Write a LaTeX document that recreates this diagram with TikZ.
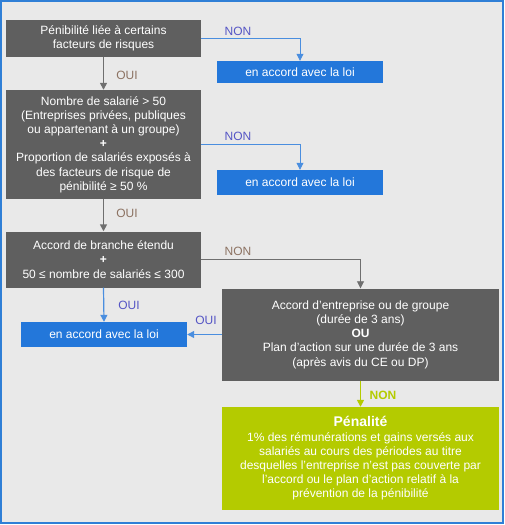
\documentclass[tikz,border=0pt]{standalone}
\usepackage{fontspec}
\setmainfont{Liberation Sans}
\usetikzlibrary{arrows.meta}

\definecolor{panelbg}{HTML}{E9E9E9}
\definecolor{panelframe}{HTML}{2F7FD6}
\definecolor{boxgrey}{HTML}{5F5F5F}
\definecolor{loiblue}{HTML}{2377DA}
\definecolor{penagreen}{HTML}{B4CB00}
\definecolor{linkblue}{HTML}{4A8EDF}
\definecolor{nonblue}{HTML}{5555C5}
\definecolor{ouibrown}{HTML}{8C7262}

\begin{document}
\begin{tikzpicture}[x=1pt, y=-1pt, every node/.style={font=\fontsize{12}{14.2}\selectfont, inner sep=0pt},
	greybox/.style={fill=boxgrey, text=white, align=center, minimum width=195pt},
	loibox/.style={fill=loiblue, text=white, minimum width=166pt},
	penabox/.style={fill=penagreen, text=white, align=center, minimum width=277pt},
	>={Triangle[length=7pt, width=7pt]}]
	\useasboundingbox (0,0) rectangle (505,525);
	\draw[panelframe, fill=panelbg, line width=1.2pt] (1,1) rectangle (503,523);

	% conditions
	\node[greybox, minimum height=37pt] (penib) at (103.5,38.5) {Pénibilité liée à certains\\facteurs de risques};
	\node[greybox, minimum height=109pt] (effectif) at (103.5,144.5) {Nombre de salarié > 50\\(Entreprises privées, publiques\\ou appartenant à un groupe)\\\textbf{+}\\Proportion de salariés exposés à\\des facteurs de risque de\\pénibilité ≥ 50 \%};
	\node[greybox, minimum height=56pt] (branche) at (103.5,259.5) {Accord de branche étendu\\\textbf{+}\\50 ≤ nombre de salariés ≤ 300};
	\node[greybox, minimum width=277pt, minimum height=92pt] (accord) at (360.5,334.5) {Accord d’entreprise ou de groupe\\(durée de 3 ans)\\\textbf{OU}\\Plan d’action sur une durée de 3 ans\\(après avis du CE ou DP)};

	% issues
	\node[loibox, minimum height=22pt] (loiA) at (300,72) {en accord avec la loi};
	\node[loibox, minimum height=25pt] (loiB) at (300,182.5) {en accord avec la loi};
	\node[loibox, minimum height=25pt] (loiC) at (104,334.5) {en accord avec la loi};
	\node[penabox, minimum height=103pt] (penalite) at (360.5,458.5) {{\fontsize{14}{16.5}\selectfont\bfseries Pénalité}\\1\% des rémunérations et gains versés aux\\salariés au cours des périodes au titre\\desquelles l’entreprise n’est pas couverte par\\l’accord ou le plan d’action relatif à la\\prévention de la pénibilité};

	% liens
	\draw[->, linkblue, thick] (penib.east) -| (loiA.north);
	\draw[->, linkblue, thick] (effectif.east) -| (loiB.north);
	\draw[->, boxgrey!90, thick] (branche.east) -| (accord.north);
	\draw[->, boxgrey!90, line width=1.5pt] (penib.south) -- (effectif.north);
	\draw[->, boxgrey!90, line width=1.5pt] (effectif.south) -- (branche.north);
	\draw[->, linkblue, line width=1.2pt] (branche.south) -- (loiC.north);
	\draw[->, linkblue, line width=1.2pt] (accord.west) -- (loiC.east);
	\draw[->, penagreen, line width=1.5pt] (accord.south) -- (penalite.north);

	\node[text=nonblue] (nonA) at (238,31) {NON};
	\node[text=nonblue] (nonB) at (238,136) {NON};
	\node[text=ouibrown] (nonC) at (238,251) {NON};
	\node[text=ouibrown] (ouiA) at (127,75) {OUI};
	\node[text=ouibrown] (ouiB) at (127,213) {OUI};
	\node[text=nonblue] (ouiC) at (129,305) {OUI};
	\node[text=nonblue] (ouiD) at (206,320) {OUI};
	\node[text=penagreen, font=\fontsize{12}{14}\selectfont\bfseries] (nonD) at (383,395) {NON};
\end{tikzpicture}
\end{document}
